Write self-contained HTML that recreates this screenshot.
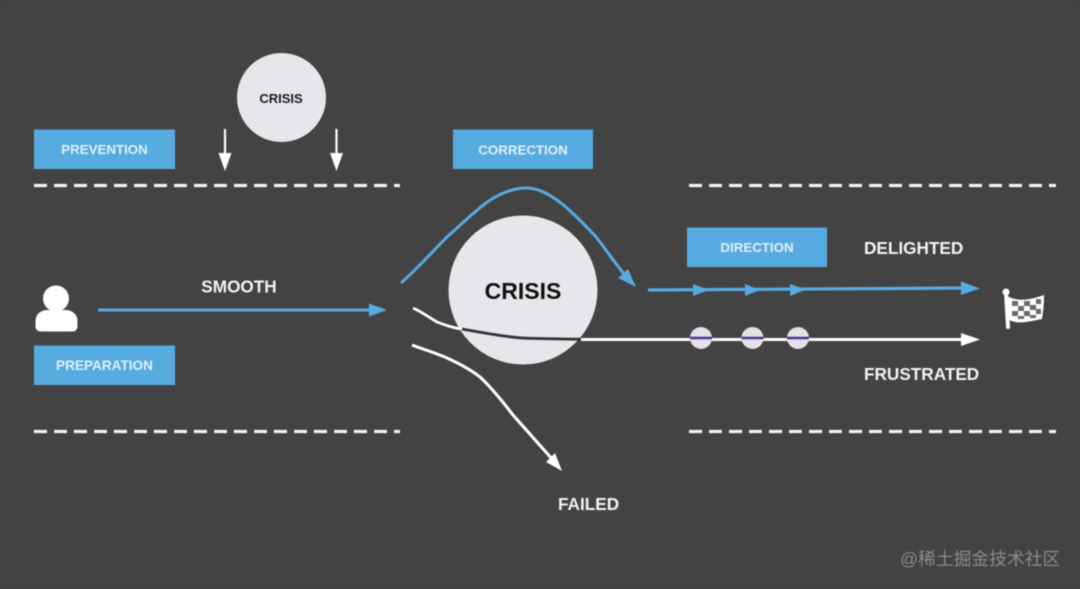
<!DOCTYPE html>
<html>
<head>
<meta charset="utf-8">
<style>
html,body{margin:0;padding:0;background:#434343;}
svg{display:block;filter:blur(0.45px);}
text{font-family:"Liberation Sans","Noto Sans CJK SC",sans-serif;font-weight:bold;}
</style>
</head>
<body>
<svg width="1080" height="589" viewBox="0 0 1080 589" xmlns="http://www.w3.org/2000/svg">
<rect width="1080" height="589" fill="#434343"/>

<!-- dashed lines -->
<g stroke="#f2f2f2" stroke-width="3.200" stroke-dasharray="13 7" fill="none">
<path d="M34 185.5H400"/>
<path d="M34 431.5H400"/>
<path d="M689 185.5H1056"/>
<path d="M689 431.5H1056"/>
</g>

<!-- boxes -->
<g fill="#56abe0">
<rect x="34" y="129.500" width="141" height="39.500"/>
<rect x="453" y="129.500" width="140" height="39.500"/>
<rect x="34" y="345.500" width="141" height="39.500"/>
<rect x="687" y="227.500" width="140" height="39.500"/>
</g>
<g fill="#e3eff8" font-size="13.300" text-anchor="middle">
<text x="104.500" y="154">PREVENTION</text>
<text x="523" y="154.500">CORRECTION</text>
<text x="104.500" y="370" font-size="13.600">PREPARATION</text>
<text x="757" y="252">DIRECTION</text>
</g>

<!-- top crisis -->
<circle cx="281.500" cy="97.500" r="44.500" fill="#e8e6ea"/>
<text x="281" y="103" font-size="13" text-anchor="middle" fill="#1a1a1a">CRISIS</text>
<path d="M225 129V157M336.500 129V157" stroke="#fff" stroke-width="2.200"/>
<path d="M218.500 153H231.500L225 171ZM330 153H343L336.500 171Z" fill="#fff"/>

<!-- big crisis -->
<circle cx="523" cy="290" r="74.500" fill="#e8e6ea"/>
<text x="523" y="299" font-size="23" text-anchor="middle" fill="#111">CRISIS</text>

<!-- person -->
<circle cx="56" cy="298.500" r="13" fill="#fff"/>
<path d="M35.500 326V321C35.500 314 41 310 48 310H65C72 310 77.500 314 77.500 321V326C77.500 330 75 331.500 72 331.500H41C38 331.500 35.500 330 35.500 326Z" fill="#fff"/>

<!-- smooth arrow -->
<path d="M98 310H372" stroke="#56abe0" stroke-width="3" fill="none"/>
<path d="M369 303.500L387 310L369 316.500Z" fill="#56abe0"/>
<text x="239" y="292.500" font-size="17.200" text-anchor="middle" fill="#f2f2f2">SMOOTH</text>

<!-- correction curve -->
<path d="M401 283C417 269 432 252 447 237C458 227 470 216 482 206C497 194 513 188 526 188C541 188 554 197 567 208C578 218 588 228 597 238C606 250 615 263 625 275" stroke="#56abe0" stroke-width="3" fill="none"/>
<path d="M618 278L628 269L636 287Z" fill="#56abe0"/>

<!-- frustrated curve -->
<path d="M413 308C422 312 430 318 437 322C445 325 453 328 462 329" stroke="#fff" stroke-width="2.800" fill="none"/>
<path d="M462 329C485 333 505 337 523 338C545 339 565 339 581 339.200" stroke="#333" stroke-width="2.800" fill="none"/>
<path d="M581 339.500H965" stroke="#fff" stroke-width="3" fill="none"/>
<path d="M961 333L980 339.500L961 346Z" fill="#fff"/>

<!-- failed curve -->
<path d="M412 345C425 350 436 353 447 358C458 363 470 369 480 377C492 388 503 402 513 415L553 460" stroke="#fff" stroke-width="3" fill="none"/>
<path d="M546 462L555 453L562 471Z" fill="#fff"/>

<!-- delighted arrow -->
<path d="M648 290L965 288" stroke="#56abe0" stroke-width="3.200" fill="none"/>
<path d="M693 284L709 290L693 296ZM745 284L760 290L745 296ZM790 284L806 289.500L790 296Z" fill="#56abe0"/>
<path d="M961 281.500L980 288.500L961 295Z" fill="#56abe0"/>

<!-- dots -->
<g>
<circle cx="701" cy="338" r="11" fill="#e4dfe8"/>
<circle cx="752.500" cy="338" r="11" fill="#e4dfe8"/>
<circle cx="798" cy="338" r="11" fill="#e4dfe8"/>
<path d="M690 338H712M741.500 338H763.500M787 338H809" stroke="#4f3391" stroke-width="2.600"/>
</g>

<!-- labels -->
<text x="864" y="254" font-size="17.200" fill="#f2f2f2">DELIGHTED</text>
<text x="864" y="380" font-size="17.200" fill="#f2f2f2">FRUSTRATED</text>
<text x="558" y="510" font-size="17.200" fill="#f2f2f2">FAILED</text>

<!-- flag -->
<g>
<path d="M1006 292L1008 327" stroke="#fff" stroke-width="4" stroke-linecap="round"/>
<circle cx="1006" cy="292" r="3.500" fill="#fff"/>
<path d="M1007 296C1018 302 1030 300 1044 295C1044 305 1043 313 1042 319C1030 321 1020 325 1009 320Z" fill="#fff"/>
<g fill="#6a6a6a">
<rect x="1012" y="301" width="6" height="5"/>
<rect x="1024" y="301" width="6" height="5"/>
<rect x="1036" y="299" width="5" height="5"/>
<rect x="1018" y="306" width="6" height="5"/>
<rect x="1030" y="305" width="6" height="5"/>
<rect x="1012" y="311" width="6" height="5"/>
<rect x="1024" y="311" width="6" height="5"/>
<rect x="1036" y="309" width="5" height="5"/>
<rect x="1018" y="316" width="6" height="3"/>
<rect x="1030" y="315" width="6" height="3"/>
</g>
</g>

<!-- watermark -->
<text x="900" y="565" font-size="17.800" fill="#8a8a8a" style="font-weight:normal">@稀土掘金技术社区</text>
</svg>
</body>
</html>
